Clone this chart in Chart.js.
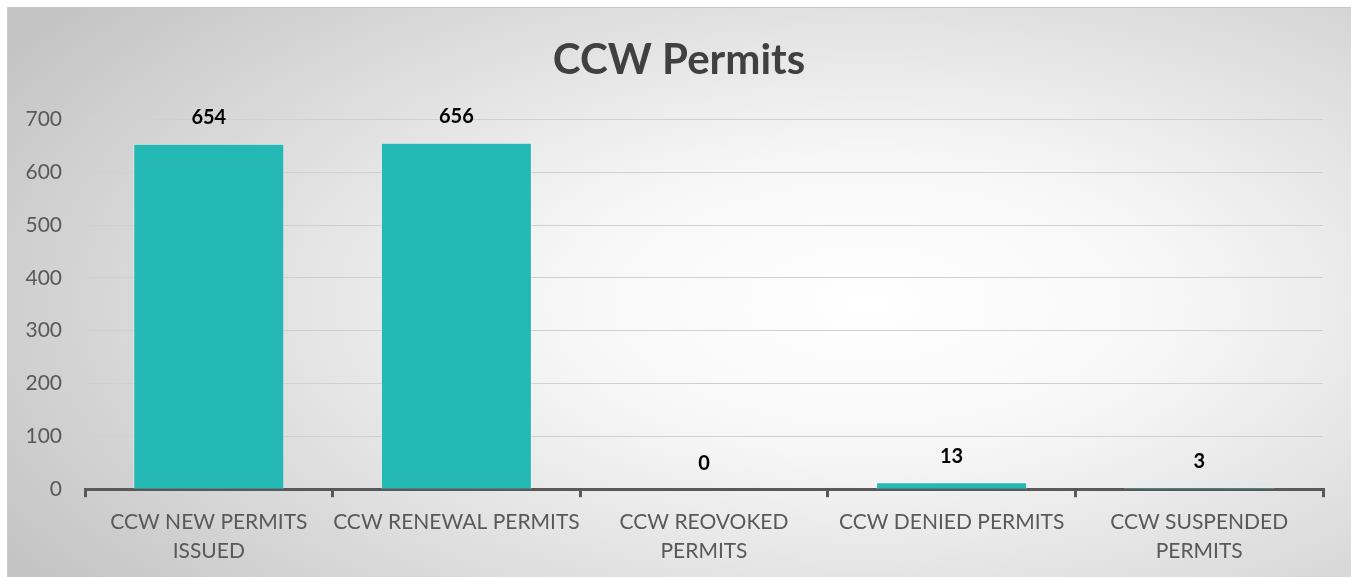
<!DOCTYPE html>
<html>
<head>
<meta charset="utf-8">
<script src="https://cdn.jsdelivr.net/npm/chart.js@4.4.1/dist/chart.umd.min.js"></script>
<style>
  html, body { margin: 0; padding: 0; background: #fff; }
  #box {
    position: absolute; left: 7px; top: 7px; width: 1344px; height: 570px;
    box-sizing: border-box; border-top: 1px solid #c8c8c8; border-left: 1px solid #c8c8c8;
    background: radial-gradient(ellipse 75% 85% at 64% 52%, #ffffff 0%, #f7f7f7 30%, #dedede 65%, #c4c4c4 100%);
  }
  #wrap { position: absolute; left: 0; top: 0; width: 1351px; height: 577px; }
</style>
</head>
<body>
<div id="box"></div>
<div id="wrap"><canvas id="permits-chart" width="1351" height="577"></canvas></div>
<script>
const categories = [
  ['CCW NEW PERMITS', 'ISSUED'],
  'CCW RENEWAL PERMITS',
  ['CCW REOVOKED', 'PERMITS'],
  'CCW DENIED PERMITS',
  ['CCW SUSPENDED', 'PERMITS']
];
const permitCounts = [654, 656, 0, 13, 3];
const yTicks = [0, 100, 200, 300, 400, 500, 600, 700];

// value labels above each bar
const valueLabels = {
  id: 'valueLabels',
  afterDatasetsDraw(chart) {
    const ctx = chart.ctx;
    const meta = chart.getDatasetMeta(0);
    ctx.save();
    ctx.font = 'bold 20px Lato';
    ctx.fillStyle = '#000';
    ctx.textAlign = 'center';
    ctx.textBaseline = 'middle';
    meta.data.forEach((bar, i) => {
      ctx.fillText(String(permitCounts[i]), bar.x, bar.y - 26);
    });
    ctx.restore();
  }
};

document.addEventListener('DOMContentLoaded', () => {
  const ctx = document.getElementById('permits-chart').getContext('2d');
  new Chart(ctx, {
    type: 'bar',
    data: {
      labels: categories,
      datasets: [{
        data: permitCounts,
        backgroundColor: '#25b9b6',
        borderColor: 'rgba(255,255,255,0.45)',
        borderWidth: 1,
        barPercentage: 0.61,
        categoryPercentage: 1
      }]
    },
    options: {
      responsive: false,
      animation: false,
      layout: { padding: { left: 7, right: 0, top: 0, bottom: 1 } },
      plugins: {
        legend: { display: false },
        tooltip: { enabled: false },
        title: {
          display: true,
          text: 'CCW Permits',
          color: '#404040',
          font: { family: 'Lato', size: 42, weight: 'bold' },
          padding: { top: 35, bottom: 34 }
        }
      },
      scales: {
        x: {
          grid: {
            offset: true,
            drawOnChartArea: false,
            drawTicks: true,
            tickLength: 8,
            color: '#595959',
            lineWidth: 3
          },
          border: { display: true, color: '#595959', width: 3 },
          ticks: {
            color: '#595959',
            font: { family: 'Lato', size: 21, lineHeight: 1.4 },
            padding: 10,
            maxRotation: 0,
            autoSkip: false
          }
        },
        y: {
          min: 0,
          max: 700,
          afterBuildTicks: (axis) => { axis.ticks = yTicks.map(v => ({ value: v })); },
          afterFit: (axis) => { axis.width = 78; },
          grid: { color: '#d0d0d0', lineWidth: 1, drawTicks: false },
          border: { display: false },
          ticks: {
            color: '#595959',
            font: { family: 'Lato', size: 21 },
            padding: 23
          }
        },
        // empty right-hand spacer
        spacer: {
          type: 'linear',
          position: 'right',
          grid: { display: false },
          border: { display: false },
          ticks: { display: false },
          afterFit: (axis) => { axis.width = 28; }
        }
      }
    },
    plugins: [valueLabels]
  });
});
</script>
</body>
</html>
